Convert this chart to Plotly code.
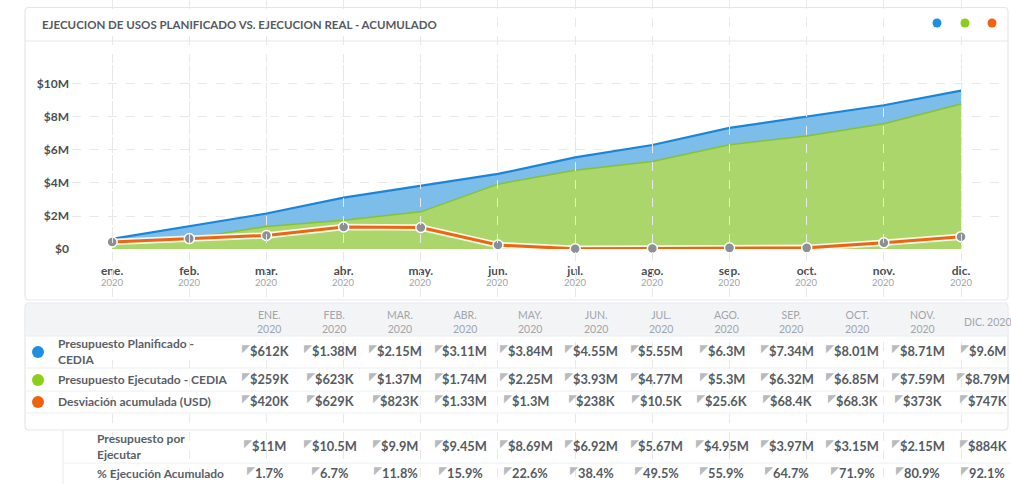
import plotly.graph_objects as go

# ---------------- data ----------------
months = ["ene.", "feb.", "mar.", "abr.", "may.", "jun.", "jul.", "ago.", "sep.", "oct.", "nov.", "dic."]
year = "2020"
col_headers = ["ENE.<br>2020", "FEB.<br>2020", "MAR.<br>2020", "ABR.<br>2020", "MAY.<br>2020", "JUN.<br>2020",
               "JUL.<br>2020", "AGO.<br>2020", "SEP.<br>2020", "OCT.<br>2020", "NOV.<br>2020", "DIC. 2020"]
planificado = [612e3, 1.38e6, 2.15e6, 3.11e6, 3.84e6, 4.55e6, 5.55e6, 6.3e6, 7.34e6, 8.01e6, 8.71e6, 9.6e6]
ejecutado = [259e3, 623e3, 1.37e6, 1.74e6, 2.25e6, 3.93e6, 4.77e6, 5.3e6, 6.32e6, 6.85e6, 7.59e6, 8.79e6]
desviacion = [420e3, 629e3, 823e3, 1.33e6, 1.3e6, 238e3, 10.5e3, 25.6e3, 68.4e3, 68.3e3, 373e3, 747e3]
por_ejecutar = [11e6, 10.5e6, 9.9e6, 9.45e6, 8.69e6, 6.92e6, 5.67e6, 4.95e6, 3.97e6, 3.15e6, 2.15e6, 884e3]
pct_ejecucion = [1.7, 6.7, 11.8, 15.9, 22.6, 38.4, 49.5, 55.9, 64.7, 71.9, 80.9, 92.1]
y_ticks = [0, 2e6, 4e6, 6e6, 8e6, 10e6]
y_ticktext = ["$0", "$2M", "$4M", "$6M", "$8M", "$10M"]
series_names = ["Presupuesto Planificado -<br>CEDIA", "Presupuesto Ejecutado - CEDIA", "Desviación acumulada (USD)"]
extra_names = ["Presupuesto por<br>Ejecutar", "% Ejecución Acumulado"]
title = "EJECUCION DE USOS PLANIFICADO VS. EJECUCION REAL - ACUMULADO"
flag_char = "◤"

# ---------------- styles ----------------
W, H = 1011, 484
FONT = "Lato"
BLUE, BLUE_FILL = "#1b85d6", "#7cbde9"
GREEN, GREEN_FILL = "#86c232", "#aad66c"
ORANGE = "#ee6410"
DOT_COLORS = ["#1e8fe1", "#8ccf1a", "#f0620f"]
TXT = "#50565e"
GRAY_TXT = "#a0a5ab"
BORDER = "#e3e7ed"
VAL_SIZE = 12.8
# approximate glyph advance (em) of Lato Bold, used only to place the small corner flags
ADV = {"$": 0.58, ".": 0.27, "M": 0.88, "K": 0.64, "%": 0.80}


def fx(px):
    return px / W


def fy(py):
    return 1 - py / H


def money(v):
    if v >= 1e6:
        return "$%sM" % ("%.3g" % (v / 1e6))
    if v >= 1e3:
        return "$%sK" % ("%.3g" % (v / 1e3))
    return "$%s" % ("%.3g" % v)


def pct(v):
    return "%.1f%%" % v


def text_w(s, size):
    return sum(ADV.get(ch, 0.58) for ch in s) * size


x_idx = list(range(len(months)))
fig = go.Figure()

fig.add_trace(go.Scatter(x=x_idx, y=planificado, mode="lines", fill="tozeroy",
                         line=dict(color=BLUE, width=2.2), fillcolor=BLUE_FILL, hoverinfo="skip"))
fig.add_trace(go.Scatter(x=x_idx, y=ejecutado, mode="lines", fill="tozeroy",
                         line=dict(color=GREEN, width=1.5), fillcolor=GREEN_FILL, hoverinfo="skip"))
fig.add_trace(go.Scatter(x=x_idx, y=desviacion, mode="lines",
                         line=dict(color="rgba(255,255,255,0.85)", width=6.5), hoverinfo="skip"))
fig.add_trace(go.Scatter(x=x_idx, y=desviacion, mode="lines+markers",
                         line=dict(color=ORANGE, width=3),
                         marker=dict(size=10, color="#8b9095", line=dict(color="white", width=1.5)),
                         cliponaxis=False, hoverinfo="skip"))

ticktext = ["<b>%s</b>" % m for m in months]

fig.update_layout(
    width=W, height=H, margin=dict(l=0, r=0, t=0, b=0),
    paper_bgcolor="white", plot_bgcolor="rgba(0,0,0,0)",
    showlegend=False, font=dict(family=FONT, color=TXT),
    xaxis=dict(domain=[fx(72), fx(1000)], range=[-0.52, 11.505], tickvals=x_idx, ticktext=ticktext,
               showgrid=True, griddash="dash", gridcolor="#e8e8e8", gridwidth=1, zeroline=False,
               showline=False, ticks="", tickfont=dict(size=12, color="#4a4f55", family=FONT),
               ticklabelstandoff=13, automargin=False, fixedrange=True),
    yaxis=dict(domain=[fy(249), fy(65)], range=[0, 11.15e6], tickvals=y_ticks, ticktext=y_ticktext,
               showgrid=True, griddash="dash", gridcolor="#e8e8e8", gridwidth=1, zeroline=False,
               showline=False, ticks="", tickfont=dict(size=12, color="#4a4f55", family=FONT, weight="bold"),
               ticklabelstandoff=2, automargin=False, fixedrange=True),
    # overlay axes in page pixels, used to place card borders and table text
    xaxis2=dict(domain=[0, 1], range=[0, W], visible=False, anchor="y2", fixedrange=True, automargin=False),
    yaxis2=dict(domain=[0, 1], range=[H, 0], visible=False, anchor="x2", fixedrange=True, automargin=False),
)

shapes = []
annotations = []

# year under each month tick
for i in x_idx:
    annotations.append(dict(xref="x", yref="y2", x=i, y=282, text=year, showarrow=False,
                            xanchor="center", yanchor="middle",
                            font=dict(family=FONT, size=9.5, color=GRAY_TXT)))


def rr_path(x0, y0, x1, y1, r=4):
    return (f"M{x0+r},{y0} L{x1-r},{y0} Q{x1},{y0} {x1},{y0+r} L{x1},{y1-r} Q{x1},{y1} {x1-r},{y1} "
            f"L{x0+r},{y1} Q{x0},{y1} {x0},{y1-r} L{x0},{y0+r} Q{x0},{y0} {x0+r},{y0} Z")


def line(x0, y0, x1, y1, color=BORDER, w=1):
    shapes.append(dict(type="line", xref="x2", yref="y2", x0=x0, y0=y0, x1=x1, y1=y1,
                       line=dict(color=color, width=w), layer="below"))


def text(x, y, s, size=12, color=TXT, xanchor="left", bold=False, align="left", family=FONT):
    annotations.append(dict(xref="x2", yref="y2", x=x, y=y, text=s, showarrow=False,
                            xanchor=xanchor, yanchor="middle", align=align,
                            font=dict(family=family, size=size, color=color, weight="bold" if bold else "normal")))


def dot(cx, cy, d, color):
    shapes.append(dict(type="circle", xref="x2", yref="y2", x0=cx - d / 2, x1=cx + d / 2,
                       y0=cy - d / 2, y1=cy + d / 2, fillcolor=color, line=dict(width=0)))


def value_cell(cx, cy, s):
    text(cx, cy, s, size=VAL_SIZE, color="#555b63", xanchor="center", bold=True)
    text(cx - text_w(s, VAL_SIZE) / 2 + 3, cy - 3.5, flag_char, size=10.5, color="#b7babe",
         xanchor="right", family="DejaVu Sans")


# chart card
shapes.append(dict(type="path", xref="x2", yref="y2", path=rr_path(25, 7.5, 1008, 300),
                   line=dict(color=BORDER, width=1.2), layer="below"))
line(25, 41, 1008, 41)
text(40, 24, title, size=11.5, color="#555a60", bold=True)
for cx, c in zip([937, 965, 992], DOT_COLORS):
    dot(cx, 23, 9, c)

# table card
shapes.append(dict(type="rect", xref="x2", yref="y2", x0=26, x1=1007, y0=303.5, y1=336,
                   fillcolor="#f3f4f6", line=dict(width=0), layer="below"))
shapes.append(dict(type="path", xref="x2", yref="y2", path=rr_path(25, 303, 1008, 430),
                   line=dict(color=BORDER, width=1.2), layer="below"))
for yy in [336, 368, 391, 413]:
    line(26, yy, 1007, yy, color="#eceef2")

col_x = [269 + 65.3 * i for i in range(12)]
for cx, h in zip(col_x, col_headers):
    text(cx, 322, h, size=10.5, color=GRAY_TXT, xanchor="center", align="center")

row_y = [351, 379, 401]
for ry, name, c, vals in zip(row_y, series_names, DOT_COLORS, [planificado, ejecutado, desviacion]):
    dot(38, ry + 1, 12, c)
    text(56, ry, name, size=12, color="#5a6068", bold=True)
    for cx, v in zip(col_x, vals):
        value_cell(cx, ry, money(v))

# extra rows outside card
line(63, 430, 63, 484, color="#e6e9ee")
line(63, 463, 1011, 463, color="#eceef2")
extra_y = [446, 473]
extra_vals = [[money(v) for v in por_ejecutar], [pct(v) for v in pct_ejecucion]]
for ry, name, vals in zip(extra_y, extra_names, extra_vals):
    text(95, ry, name, size=12, color="#5a6068", bold=True)
    for cx, s in zip(col_x, vals):
        value_cell(cx, ry, s)

fig.update_layout(shapes=shapes, annotations=annotations)
fig.write_html("out.html", config={"displayModeBar": False},
               post_script="document.body.style.margin='0';document.body.style.overflow='hidden';")
